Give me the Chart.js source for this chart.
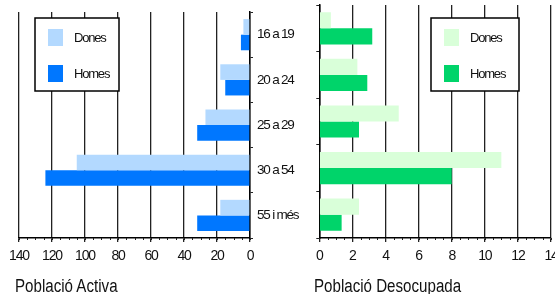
<!DOCTYPE html>
<html>
<head>
<meta charset="utf-8">
<script src="https://cdn.jsdelivr.net/npm/chart.js@4.4.1/dist/chart.umd.min.js"></script>
<style>
  body { margin: 0; width: 555px; height: 294px; overflow: hidden; background: #fff; position: relative; }
  canvas { position: absolute; top: 0; }
  #activa { left: 0; }
  #desoc { left: 310px; }
  .titol { position: absolute; top: 277px; line-height: 18px; font-size: 18px; color: #111; white-space: nowrap;
           font-family: 'Liberation Sans', Arial, sans-serif; transform: scaleX(0.84); transform-origin: left center; }
</style>
</head>
<body>
<canvas id="activa" width="310" height="294"></canvas>
<canvas id="desoc" width="260" height="294"></canvas>
<div class="titol" style="left:15px">Població Activa</div>
<div class="titol" style="left:314px">Població Desocupada</div>
<script>
var categories = ['16 a 19', '20 a 24', '25 a 29', '30 a 54', '55 i més'];
var seriesNames = ['Dones', 'Homes'];

// població activa (milers)
var activaDones = [4, 18, 27, 105, 18];
var activaHomes = [5.5, 15, 32, 124, 32];

// població desocupada (milers)
var desocDones = [0.7, 2.3, 4.8, 11.0, 2.4];
var desocHomes = [3.2, 2.9, 2.4, 8.0, 1.35];

var activaTicks = [0, 20, 40, 60, 80, 100, 120, 140];
var desocTicks = [0, 2, 4, 6, 8, 10, 12, 14];

Chart.defaults.font.family = "'Liberation Sans', Arial, sans-serif";
Chart.defaults.color = '#111';

// lletra estreta: Arial amb menys espai entre lletres
var narrow = {
  id: 'narrow',
  beforeLayout: function (chart) { chart.ctx.letterSpacing = '-1.2px'; },
  beforeDraw: function (chart) { chart.ctx.letterSpacing = '-1.2px'; }
};

// petites marques i llegenda amb requadre
var extras = {
  id: 'extras',
  afterDraw: function (chart, args, opts) {
    var ctx = chart.ctx;
    var x = chart.scales.x;
    ctx.save();
    ctx.strokeStyle = '#222';
    ctx.lineWidth = 1;
    for (var v = x.min; v <= x.max + 1e-9; v += opts.minor) {
      var px = Math.round(x.getPixelForValue(v)) + 0.5;
      ctx.beginPath();
      ctx.moveTo(px, chart.chartArea.bottom);
      ctx.lineTo(px, chart.chartArea.bottom + 2);
      ctx.stroke();
    }
    var b = opts.box;
    ctx.fillStyle = '#fff';
    ctx.fillRect(b.x, b.y, b.w, b.h);
    ctx.strokeStyle = '#000';
    ctx.lineWidth = 1.5;
    ctx.strokeRect(b.x, b.y, b.w, b.h);
    ctx.font = "13px 'Liberation Sans', Arial, sans-serif";
    ctx.letterSpacing = '-1.2px';
    ctx.textBaseline = 'middle';
    chart.data.datasets.forEach(function (ds, i) {
      var sy = b.y + 11 + i * 36;
      ctx.fillStyle = ds.backgroundColor;
      ctx.fillRect(b.x + 13, sy, 15, 17);
      ctx.fillStyle = '#111';
      ctx.fillText(ds.label, b.x + 39, sy + 9);
    });
    ctx.restore();
  }
};

function makeChart(id, dones, homes, colors, ticks, minor, reverse, yPos, pad, box) {
  return new Chart(document.getElementById(id), {
    type: 'bar',
    data: {
      labels: categories,
      datasets: [
        { label: seriesNames[0], data: dones, backgroundColor: colors[0] },
        { label: seriesNames[1], data: homes, backgroundColor: colors[1] }
      ]
    },
    options: {
      indexAxis: 'y',
      responsive: false,
      animation: false,
      categoryPercentage: 0.69,
      barPercentage: 1.0,
      layout: { padding: pad },
      plugins: {
        legend: { display: false },
        tooltip: { enabled: false },
        extras: { minor: minor, box: box }
      },
      scales: {
        x: {
          min: ticks[0],
          max: ticks[ticks.length - 1],
          reverse: reverse,
          afterBuildTicks: function (s) { s.ticks = ticks.map(function (v) { return { value: v }; }); },
          afterFit: function (s) { s.height = 30; },
          grid: { color: '#222', lineWidth: 1.3, tickLength: 4, tickColor: '#222' },
          border: { color: '#000', width: 1.5 },
          ticks: { font: { size: 14 }, padding: 6, maxRotation: 0 }
        },
        y: {
          position: yPos,
          afterFit: function (s) { s.width = yPos === 'right' ? 60 : 4; },
          grid: { drawOnChartArea: false, tickLength: 3, tickColor: '#222' },
          border: { color: '#000', width: 1.5 },
          ticks: { display: yPos === 'right', font: { size: 13.5 }, padding: 4 }
        }
      }
    },
    plugins: [narrow, extras]
  });
}

makeChart('activa', activaDones, activaHomes, ['#b3d9ff', '#0077ff'], activaTicks, 5, true, 'right',
  { left: 19, right: 0, top: 5, bottom: 26 }, { x: 35, y: 18, w: 84, h: 73 });
makeChart('desoc', desocDones, desocHomes, ['#d9ffd9', '#00d46a'], desocTicks, 0.5, false, 'left',
  { left: 3, right: 19, top: 5, bottom: 26 }, { x: 121, y: 18, w: 88, h: 73 });
</script>
</body>
</html>
